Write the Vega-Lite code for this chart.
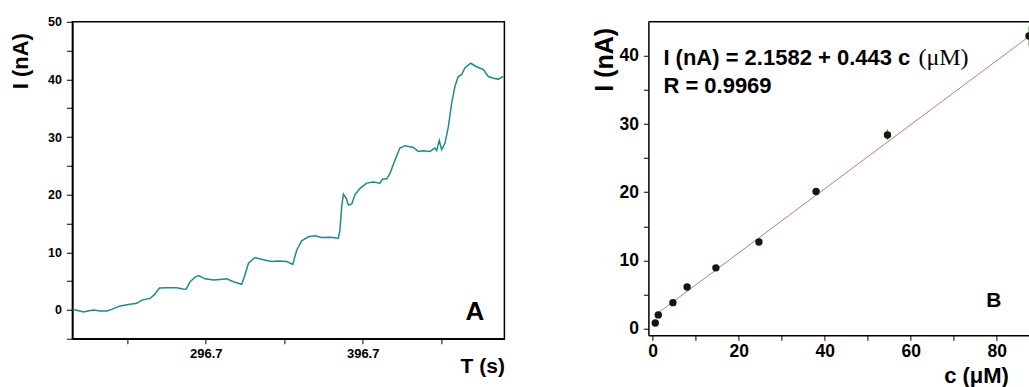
{
  "$schema": "https://vega.github.io/schema/vega-lite/v6.json",
  "background": "white",
  "padding": {"left": 8.4, "top": 14.75, "right": 0, "bottom": 0},
  "bounds": "flush",
  "spacing": 144,
  "config": {
    "font": "Liberation Sans",
    "axis": {"domainColor": "black", "domainWidth": 1.5, "tickColor": "black", "tickWidth": 1, "labelColor": "black", "labelFontWeight": "bold", "titleFontWeight": "bold", "titleColor": "black", "grid": false, "labelFont": "Liberation Sans", "titleFont": "Liberation Sans", "labelOverlap": false, "labelFlush": false},
    "view": {"stroke": "black", "strokeWidth": 1.5}
  },
  "hconcat": [
    {
      "width": 432,
      "height": 317,
      "layer": [
        {
          "data": {"values": [
            {"T": 211.8, "I": 0.1}, {"T": 215.2, "I": -0.1}, {"T": 218.8, "I": -0.35}, {"T": 221.5, "I": -0.2},
            {"T": 225.2, "I": 0.0}, {"T": 229.4, "I": -0.2}, {"T": 233.6, "I": -0.2}, {"T": 236.8, "I": 0.1},
            {"T": 242.1, "I": 0.7}, {"T": 248.5, "I": 1.0}, {"T": 252.8, "I": 1.15}, {"T": 255.9, "I": 1.7},
            {"T": 261.2, "I": 2.0}, {"T": 263.8, "I": 2.6}, {"T": 267.2, "I": 3.8}, {"T": 271.9, "I": 3.85},
            {"T": 278.2, "I": 3.85}, {"T": 282.1, "I": 3.65}, {"T": 284.2, "I": 3.6}, {"T": 286.7, "I": 4.9},
            {"T": 289.9, "I": 5.7}, {"T": 292.1, "I": 5.95}, {"T": 296.3, "I": 5.4}, {"T": 301.6, "I": 5.2},
            {"T": 305.6, "I": 5.3}, {"T": 310.1, "I": 5.4}, {"T": 314.3, "I": 4.9}, {"T": 319.6, "I": 4.45},
            {"T": 321.7, "I": 6.1}, {"T": 323.9, "I": 8.1}, {"T": 328.1, "I": 9.1}, {"T": 333.4, "I": 8.7},
            {"T": 338.7, "I": 8.4}, {"T": 343.0, "I": 8.5}, {"T": 348.3, "I": 8.4}, {"T": 352.1, "I": 7.9},
            {"T": 354.7, "I": 10.4}, {"T": 357.8, "I": 12.0}, {"T": 362.1, "I": 12.7}, {"T": 366.3, "I": 12.85},
            {"T": 370.6, "I": 12.55}, {"T": 375.9, "I": 12.6}, {"T": 381.2, "I": 12.45}, {"T": 382.2, "I": 13.9},
            {"T": 383.3, "I": 17.9}, {"T": 384.4, "I": 20.1}, {"T": 386.1, "I": 19.4}, {"T": 387.6, "I": 18.2},
            {"T": 389.7, "I": 18.4}, {"T": 391.8, "I": 20.0}, {"T": 395.0, "I": 21.1}, {"T": 399.2, "I": 22.0},
            {"T": 403.5, "I": 22.2}, {"T": 407.7, "I": 22.0}, {"T": 409.4, "I": 22.7}, {"T": 412.0, "I": 22.7},
            {"T": 414.1, "I": 23.7}, {"T": 417.3, "I": 26.0}, {"T": 420.4, "I": 28.1}, {"T": 423.6, "I": 28.5},
            {"T": 429.0, "I": 28.2}, {"T": 432.2, "I": 27.5}, {"T": 435.3, "I": 27.6}, {"T": 439.6, "I": 27.5},
            {"T": 442.7, "I": 28.1}, {"T": 443.8, "I": 27.65}, {"T": 445.5, "I": 29.4}, {"T": 447.0, "I": 27.8},
            {"T": 449.1, "I": 28.9}, {"T": 451.3, "I": 31.8}, {"T": 453.4, "I": 35.9}, {"T": 455.5, "I": 38.8},
            {"T": 457.6, "I": 40.5}, {"T": 459.7, "I": 40.8}, {"T": 461.8, "I": 42.0}, {"T": 465.5, "I": 42.8},
            {"T": 469.3, "I": 42.2}, {"T": 473.6, "I": 41.7}, {"T": 476.7, "I": 40.5}, {"T": 479.9, "I": 40.2},
            {"T": 483.1, "I": 40.05}, {"T": 486.3, "I": 40.5}
          ]},
          "mark": {"type": "line", "color": "#1f8a8a", "strokeWidth": 1.5, "clip": true},
          "encoding": {
            "x": {"field": "T", "type": "quantitative", "scale": {"domain": [211.7, 487], "nice": false, "zero": false},
              "axis": {"values": [246.7, 296.7, 346.7, 396.7, 446.7], "tickCount": 40, "format": ".1f", "labelExpr": "datum.value == 296.7 || datum.value == 396.7 ? datum.label : ''", "labelFontSize": 13, "tickSize": 5, "labelPadding": 4, "title": "T (s)", "titleFontSize": 21, "titleAlign": "right", "titleX": 432, "titleY": 34, "titleBaseline": "alphabetic"}},
            "y": {"field": "I", "type": "quantitative", "scale": {"domain": [-5, 50], "nice": false, "zero": false},
              "axis": {"values": [-5, 0, 5, 10, 15, 20, 25, 30, 35, 40, 45, 50], "tickCount": 40, "labelExpr": "datum.value % 10 == 0 ? datum.label : ''", "labelFontSize": 12.5, "tickSize": 6, "labelPadding": 5, "title": "I (nA)", "titleFontSize": 22, "titleAngle": -90, "titleX": -45, "titleY": 39, "titleAlign": "center", "titleBaseline": "alphabetic"}}
          }
        },
        {
          "data": {"values": [{"label": "A"}]},
          "mark": {"type": "text", "fontSize": 26, "fontWeight": "bold", "align": "center", "baseline": "alphabetic", "fill": "black", "stroke": null},
          "encoding": {
            "x": {"datum": 468.2, "type": "quantitative"},
            "y": {"datum": -1.74, "type": "quantitative"},
            "text": {"field": "label"}
          }
        }
      ]
    },
    {
      "width": 382.3,
      "height": 313.6,
      "view": {"stroke": null},
      "layer": [
        {
          "data": {"values": [{"c": 0.6, "I": 1.98}, {"c": 88, "I": 43.06}]},
          "mark": {"type": "line", "color": "#c07878", "strokeWidth": 1, "clip": true},
          "encoding": {
            "x": {"field": "c", "type": "quantitative", "scale": {"domain": [-1, 87.9], "nice": false, "zero": false},
              "axis": {"values": [0, 10, 20, 30, 40, 50, 60, 70, 80], "tickCount": 40, "labelExpr": "datum.value % 20 == 0 ? datum.label : ''", "labelFontSize": 17.5, "tickSize": 5, "labelPadding": 2, "title": "c (μM)", "titleFontSize": 22, "titleAlign": "right", "titleX": 360, "titleY": 47.4, "titleBaseline": "alphabetic"}},
            "y": {"field": "I", "type": "quantitative", "scale": {"domain": [-1, 45], "nice": false, "zero": false},
              "axis": {"values": [0, 5, 10, 15, 20, 25, 30, 35, 40], "tickCount": 40, "labelExpr": "datum.value % 10 == 0 ? datum.label : ''", "labelFontSize": 17.5, "tickSize": 5, "labelPadding": 5, "title": "I (nA)", "titleFontSize": 25, "titleAngle": -90, "titleX": -36, "titleY": 37.5, "titleAlign": "center", "titleBaseline": "alphabetic"}}
          }
        },
        {
          "data": {"values": [{"top": 45}]},
          "mark": {"type": "rule", "color": "black", "strokeWidth": 1.5},
          "encoding": {"y": {"field": "top", "type": "quantitative"}}
        },
        {
          "data": {"values": [
            {"c": 0.6, "I": 0.8, "lo": 0.4, "hi": 1.2},
            {"c": 1.3, "I": 2.0, "lo": 1.7, "hi": 2.3},
            {"c": 4.7, "I": 3.8, "lo": 3.4, "hi": 4.2},
            {"c": 8.0, "I": 6.1, "lo": 5.8, "hi": 6.4},
            {"c": 14.7, "I": 8.9, "lo": 8.6, "hi": 9.3},
            {"c": 24.7, "I": 12.7, "lo": 12.4, "hi": 13.0},
            {"c": 38.0, "I": 20.1, "lo": 19.6, "hi": 20.6},
            {"c": 54.6, "I": 28.4, "lo": 27.7, "hi": 29.2},
            {"c": 87.5, "I": 42.9, "lo": 41.5, "hi": 44.3}
          ]},
          "layer": [
            {
              "mark": {"type": "rule", "color": "#3a9a3a", "strokeWidth": 1, "clip": true},
              "encoding": {
                "x": {"field": "c", "type": "quantitative"},
                "y": {"field": "lo", "type": "quantitative"},
                "y2": {"field": "hi"}
              }
            },
            {
              "mark": {"type": "point", "filled": true, "shape": "circle", "size": 55, "color": "#0f1a10", "opacity": 1, "clip": true},
              "encoding": {
                "x": {"field": "c", "type": "quantitative"},
                "y": {"field": "I", "type": "quantitative"}
              }
            }
          ]
        },
        {
          "data": {"values": [
            {"c": 2.49, "I": 38.68, "t": "I (nA) = 2.1582 + 0.443 c"},
            {"c": 2.49, "I": 34.5, "t": "R = 0.9969"}
          ]},
          "mark": {"type": "text", "fontSize": 22, "fontWeight": "bold", "align": "left", "baseline": "alphabetic", "fill": "black", "stroke": null},
          "encoding": {
            "x": {"field": "c", "type": "quantitative"},
            "y": {"field": "I", "type": "quantitative"},
            "text": {"field": "t"}
          }
        },
        {
          "data": {"values": [{"c": 61.8, "I": 38.68, "t": "(μM)"}]},
          "mark": {"type": "text", "fontSize": 24, "font": "Liberation Serif", "align": "left", "baseline": "alphabetic", "fill": "black", "stroke": null},
          "encoding": {
            "x": {"field": "c", "type": "quantitative"},
            "y": {"field": "I", "type": "quantitative"},
            "text": {"field": "t"}
          }
        },
        {
          "data": {"values": [{"c": 79.3, "I": 3.2, "t": "B"}]},
          "mark": {"type": "text", "fontSize": 21, "fontWeight": "bold", "align": "center", "baseline": "alphabetic", "fill": "black", "stroke": null},
          "encoding": {
            "x": {"field": "c", "type": "quantitative"},
            "y": {"field": "I", "type": "quantitative"},
            "text": {"field": "t"}
          }
        }
      ]
    }
  ]
}
